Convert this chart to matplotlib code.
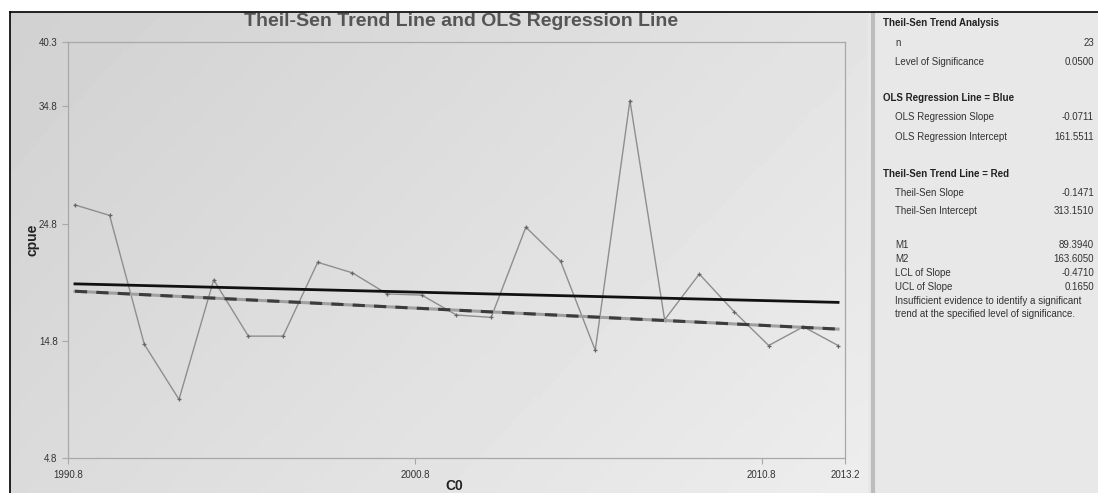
import numpy as np
import matplotlib
matplotlib.use("Agg")
import matplotlib.pyplot as plt

plt.rcParams['font.family'] = ['Liberation Sans', 'DejaVu Sans']

# data
years = list(range(1991, 2014))
cpue = [26.4, 25.5, 14.5, 9.8, 20.0, 15.2, 15.2, 21.5, 20.6, 18.8, 18.7,
        17.0, 16.8, 24.5, 21.6, 14.0, 35.3, 16.6, 20.5, 17.3, 14.4, 16.0, 14.4]

line_years = [1991, 2013]
ols_line = [19.66, 18.08]
theil_sen_line = [19.03, 15.80]

x_ticks = [1990.8, 2000.8, 2010.8, 2013.2]
y_ticks = [4.8, 14.8, 24.8, 34.8, 40.3]

panel_rows = [
    ("Theil-Sen Trend Analysis", None, True),
    ("n", "23", False),
    ("Level of Significance", "0.0500", False),
    ("OLS Regression Line = Blue", None, True),
    ("OLS Regression Slope", "-0.0711", False),
    ("OLS Regression Intercept", "161.5511", False),
    ("Theil-Sen Trend Line = Red", None, True),
    ("Theil-Sen Slope", "-0.1471", False),
    ("Theil-Sen Intercept", "313.1510", False),
    ("M1", "89.3940", False),
    ("M2", "163.6050", False),
    ("LCL of Slope", "-0.4710", False),
    ("UCL of Slope", "0.1650", False),
]
row_y = [23, 43, 62, 98, 117, 137, 174, 193, 211, 245, 259, 273, 287]
note_lines = ["Insufficient evidence to identify a significant",
              "trend at the specified level of significance."]

W, H = 1098, 493
fig = plt.figure(figsize=(W / 100, H / 100), dpi=100)
fig.patch.set_facecolor("white")

# light diagonal gradient behind the chart
bg = fig.add_axes([10 / W, 0, (868 - 10) / W, (H - 12) / H])
gx, gy = np.meshgrid(np.linspace(0, 1, 200), np.linspace(0, 1, 100))
grad = 0.65 * gx + 0.35 * gy
bg.imshow(grad, cmap="gray", vmin=-7.45, vmax=1.64, aspect="auto",
          extent=[0, 1, 0, 1], origin="upper")
bg.set_xlim(0, 1)
bg.set_ylim(0, 1)
bg.axis("off")
bg.set_zorder(0)

# right info panel
rp = fig.add_axes([868 / W, 0, (W - 868) / W, (H - 12) / H])
rp.set_facecolor("#e8e8e8")
rp.set_xticks([])
rp.set_yticks([])
for s in rp.spines.values():
    s.set_visible(False)
rp.axvline(0.02, color="#bdbdbd", lw=3)

# black frame lines
fig.add_artist(plt.Line2D([10 / W, 1], [1 - 12 / H, 1 - 12 / H], color="black", lw=1.2))
fig.add_artist(plt.Line2D([10 / W, 10 / W], [0, 1 - 12 / H], color="black", lw=1.2))

ax = fig.add_axes([68 / W, 1 - 458 / H, (845 - 68) / W, (458 - 42) / H])
ax.set_zorder(1)
ax.patch.set_alpha(0)

ax.plot(years, cpue, color="#8e8e8e", lw=1.0, marker="+", ms=3.5, mew=0.9,
        mec="#666666", zorder=3)
ax.plot(line_years, ols_line, color="#111111", lw=2.0, zorder=4)
ax.plot(line_years, theil_sen_line, color="#a0a0a0", lw=2.2, zorder=4)
ax.plot(line_years, theil_sen_line, color="#3c3c3c", lw=2.2, dashes=(4, 3), zorder=5)

ax.set_xlim(1990.8, 2013.2)
ax.set_ylim(4.8, 40.3)
ax.set_xticks(x_ticks)
ax.set_yticks(y_ticks)
ax.set_xticklabels([f"{t:.1f}" for t in x_ticks])
ax.set_yticklabels([f"{t:.1f}" for t in y_ticks])
ax.tick_params(axis="both", labelsize=7, labelcolor="#333333", color="#a8a8a8",
               length=4, width=0.8)
ax.tick_params(axis="x", pad=5)
for s in ax.spines.values():
    s.set_color("#a8a8a8")
    s.set_linewidth(0.9)

fig.text(461 / W, 1 - 22 / H, "Theil-Sen Trend Line and OLS Regression Line",
         ha="center", va="center", fontsize=14, fontweight="bold", color="#555555")
fig.text(32 / W, 1 - 240 / H, "cpue", rotation=90, ha="center", va="center",
         fontsize=10, fontweight="bold", color="#222222")
fig.text(454 / W, 1 - 486 / H, "C0", ha="center", va="center",
         fontsize=10, fontweight="bold", color="#222222")

# info panel text
for (label, val, bold), y in zip(panel_rows, row_y):
    if bold:
        fig.text(883 / W, 1 - y / H, label, ha="left", va="center", fontsize=7,
                 fontweight="bold", color="#222222")
    else:
        fig.text(895 / W, 1 - y / H, label, ha="left", va="center", fontsize=7,
                 color="#333333")
        fig.text(1094 / W, 1 - y / H, val, ha="right", va="center", fontsize=7,
                 color="#333333")
for line, y in zip(note_lines, [301, 314]):
    fig.text(895 / W, 1 - y / H, line, ha="left", va="center", fontsize=7,
             color="#333333")

fig.savefig("out.png", dpi=100)
